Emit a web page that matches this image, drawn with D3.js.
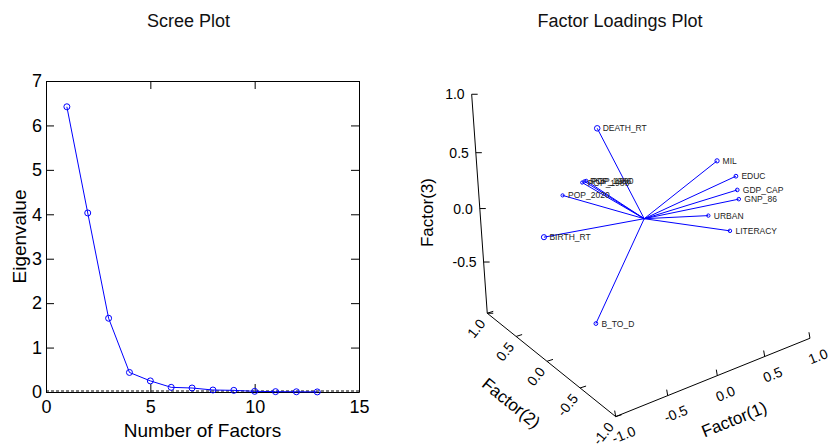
<!DOCTYPE html>
<html><head><meta charset="utf-8">
<script src="https://cdn.jsdelivr.net/npm/d3@7"></script>
<style>body{margin:0;background:#fff} text{font-family:"Liberation Sans",Arial,Helvetica,sans-serif}</style>
</head><body><svg id="c" width="828" height="445"></svg>
<script>
// ---------- data ----------
const factorNumbers = [1,2,3,4,5,6,7,8,9,10,11,12,13];
const eigenvalues = [6.42,4.03,1.66,0.44,0.25,0.105,0.09,0.045,0.037,0.015,0.008,0.005,0.002];
const screeXTicks = [0,5,10,15];
const screeYTicks = [0,1,2,3,4,5,6,7];

const variables = ["DEATH_RT","MIL","EDUC","GDP_CAP","GNP_86","URBAN","LITERACY","BIRTH_RT","POP_2020","POP_1983","POP_1986","POP_1990","B_TO_D"];
const factor1 = [-0.38, 0.68, 0.89, 0.91, 0.93, 0.72, 0.80,-0.885,-0.23, 0.01, 0.04, 0.06,-0.44];
const factor2 = [ 0.10,-0.10,-0.10,-0.10,-0.10, 0.05,-0.15, 0.15, 0.90, 0.95, 0.96, 0.96, 0.10];
const factor3 = [ 0.84, 0.37, 0.18, 0.05,-0.04,-0.19,-0.28, 0.03,-0.05,-0.01,-0.01,-0.01,-0.88];
const loadingTicks = [-1,-0.5,0,0.5,1];
const loadingTickLabels = ["-1.0","-0.5","0.0","0.5","1.0"];

const svg = d3.select("#c");
const BLUE = "#0000ff";

// ---------- Scree plot ----------
const L = 46, R = 359, T = 81, B = 392;
const x = d3.scaleLinear().domain([0,15]).range([L,R]);
const y = d3.scaleLinear().domain([0,7]).range([B,T]);
const g1 = svg.append("g");

g1.append("text").attr("x",188.5).attr("y",27).attr("text-anchor","middle")
  .attr("font-size",18).attr("fill","#111").text("Scree Plot");

function styleAxis(sel, fs){
  sel.selectAll("text").attr("font-size",fs).attr("fill","#000").attr("font-family",'"Liberation Sans",Arial,sans-serif');
  sel.selectAll("line").attr("stroke","#000");
  sel.select(".domain").attr("stroke","#000");
}
const fmt = d3.format("d");
g1.append("g").attr("transform",`translate(0,${B})`)
  .call(d3.axisBottom(x).tickValues(screeXTicks).tickFormat(fmt).tickSizeInner(-8).tickSizeOuter(0).tickPadding(8))
  .call(s=>styleAxis(s,18));
g1.append("g").attr("transform",`translate(0,${T})`)
  .call(d3.axisTop(x).tickValues(screeXTicks).tickSizeInner(-8).tickSizeOuter(0).tickFormat(""))
  .call(s=>styleAxis(s,18));
g1.append("g").attr("transform",`translate(${L},0)`)
  .call(d3.axisLeft(y).tickValues(screeYTicks).tickFormat(fmt).tickSizeInner(-8).tickSizeOuter(0).tickPadding(4))
  .call(s=>styleAxis(s,18));
g1.append("g").attr("transform",`translate(${R},0)`)
  .call(d3.axisRight(y).tickValues(screeYTicks).tickSizeInner(-8).tickSizeOuter(0).tickFormat(""))
  .call(s=>styleAxis(s,18));
g1.selectAll("path.domain").attr("fill","none");
// dashed zero line
g1.append("line").attr("x1",L).attr("x2",R).attr("y1",y(0)-1).attr("y2",y(0)-1)
  .attr("stroke","#000").attr("stroke-dasharray","3,2").attr("stroke-width",1);

g1.append("path").datum(factorNumbers.map((f,i)=>[f,eigenvalues[i]]))
  .attr("fill","none").attr("stroke",BLUE).attr("stroke-width",1)
  .attr("d", d3.line().x(d=>x(d[0])).y(d=>y(d[1])));
g1.selectAll("circle.pt").data(factorNumbers).enter().append("circle")
  .attr("cx",(d)=>x(d)).attr("cy",(d,i)=>y(eigenvalues[i])).attr("r",3)
  .attr("fill","none").attr("stroke",BLUE).attr("stroke-width",1);

g1.append("text").attr("transform",`translate(19,${(T+B)/2}) rotate(-90)`)
  .attr("text-anchor","middle").attr("dominant-baseline","central").attr("font-size",19).text("Eigenvalue");
g1.append("text").attr("x",(L+R)/2).attr("y",437).attr("text-anchor","middle")
  .attr("font-size",19).text("Number of Factors");

// ---------- Factor loadings 3D plot ----------
const s1 = d3.scaleLinear().domain([-1,1]).range([-1,1]);
const s2 = d3.scaleLinear().domain([-1,1]).range([-1,1]);
const s3 = d3.scaleLinear().domain([-1,1]).range([-1,1]);
const O = [644.2,218.7];
const va = [97.8,-31.05], vb = [-70.7,-41.45], vc = [-0.58,-111.55];
const K = [0.045,0.07,-0.045];
function proj(f1,f2,f3){
  const u=s1(f1), v=s2(f2), w=s3(f3);
  const W = 1 + K[0]*u + K[1]*v + K[2]*w;
  return [O[0]+(va[0]*u+vb[0]*v+vc[0]*w)/W, O[1]+(va[1]*u+vb[1]*v+vc[1]*w)/W, W];
}
const g2 = svg.append("g");
g2.append("text").attr("x",620).attr("y",27).attr("text-anchor","middle")
  .attr("font-size",18).attr("fill","#111").text("Factor Loadings Plot");

const ax = (p,q)=>g2.append("line").attr("x1",p[0]).attr("y1",p[1]).attr("x2",q[0]).attr("y2",q[1])
   .attr("stroke","#000").attr("stroke-width",1);
// axes
ax(proj(-1,-1,-1),proj(1,-1,-1));
ax(proj(-1,-1,-1),proj(-1,1,-1));
ax(proj(-1,1,-1),proj(-1,1,1));
const deg = (p,q)=>Math.atan2(q[1]-p[1],q[0]-p[0])*180/Math.PI;
const ang1 = deg(proj(-1,-1,-1),proj(1,-1,-1));
const ang2 = deg(proj(-1,1,-1),proj(-1,-1,-1));
// factor(1) ticks
loadingTicks.forEach((t,i)=>{
  const p = proj(t,-1,-1);
  ax(p,[p[0]-1,p[1]-6]);
  g2.append("text").attr("transform",`translate(${p[0]+8},${p[1]+18}) rotate(${ang1})`)
    .attr("text-anchor","middle").attr("dominant-baseline","central").attr("font-size",14).text(loadingTickLabels[i]);
});
// factor(2) ticks
loadingTicks.forEach((t,i)=>{
  const p = proj(-1,t,-1);
  ax(p,[p[0]+6,p[1]-1.9]);
  g2.append("text").attr("transform",`translate(${p[0]-5},${p[1]+7.5}) rotate(${ang2-90})`)
    .attr("text-anchor","end").attr("dominant-baseline","central").attr("font-size",14).text(loadingTickLabels[i]);
});
// factor(3) ticks (the -1.0 corner is labelled by the Factor(2) axis)
loadingTicks.forEach((t,i)=>{
  const p = proj(-1,1,t);
  ax(p,[p[0]+6,p[1]]);
  if (t > -1) g2.append("text").attr("x",p[0]-7).attr("y",p[1]).attr("text-anchor","end")
    .attr("dominant-baseline","central").attr("font-size",14).text(loadingTickLabels[i]);
});
// axis titles
{
  const p3 = proj(-1,1,0);
  g2.append("text").attr("transform",`translate(${p3[0]-52},${p3[1]+4}) rotate(-90)`)
    .attr("text-anchor","middle").attr("dominant-baseline","central").attr("font-size",17).text("Factor(3)");
  const p2 = proj(-1,0,-1);
  g2.append("text").attr("transform",`translate(${p2[0]-36},${p2[1]+42}) rotate(${ang2})`)
    .attr("text-anchor","middle").attr("dominant-baseline","central").attr("font-size",17).text("Factor(2)");
  const p1 = proj(0,-1,-1);
  g2.append("text").attr("transform",`translate(${p1[0]+17},${p1[1]+44}) rotate(${ang1})`)
    .attr("text-anchor","middle").attr("dominant-baseline","central").attr("font-size",17).text("Factor(1)");
}
// vectors
const pts = variables.map((v,i)=>({name:v, p:proj(factor1[i],factor2[i],factor3[i])}));
const rScale = d3.scaleLinear().domain([0.95,1.05]).range([2.8,1.6]).clamp(true);
g2.selectAll("line.vec").data(pts).enter().append("line")
  .attr("x1",O[0]).attr("y1",O[1]).attr("x2",d=>d.p[0]).attr("y2",d=>d.p[1])
  .attr("stroke",BLUE).attr("stroke-width",1);
g2.selectAll("circle.vec").data(pts).enter().append("circle")
  .attr("cx",d=>d.p[0]).attr("cy",d=>d.p[1]).attr("r",d=>rScale(d.p[2]))
  .attr("fill","none").attr("stroke",BLUE).attr("stroke-width",1);
g2.selectAll("text.vec").data(pts).enter().append("text")
  .attr("x",d=>d.p[0]+5.5).attr("y",d=>d.p[1]).attr("dominant-baseline","central")
  .attr("font-size",8.5).attr("fill","#222").text(d=>d.name);
</script></body></html>
